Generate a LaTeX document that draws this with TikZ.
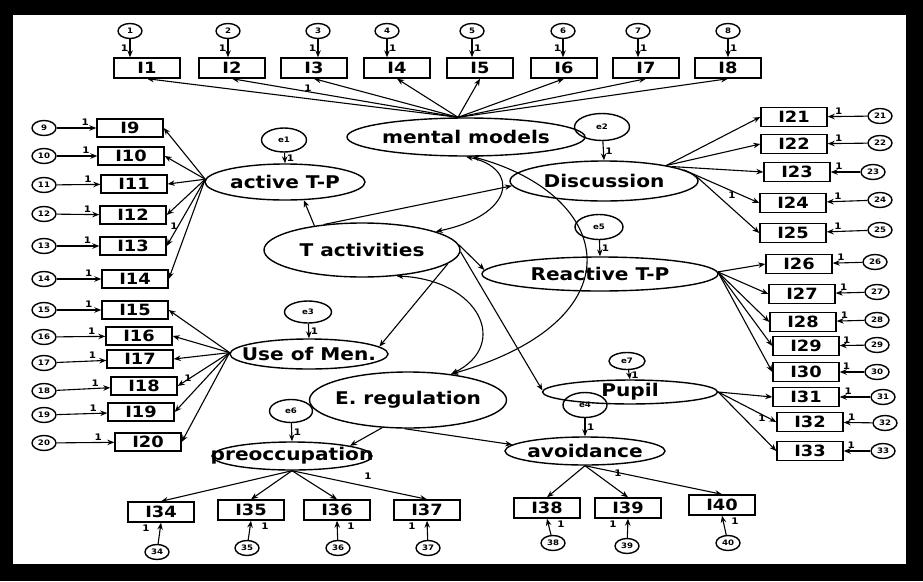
\documentclass[tikz,border=0pt]{standalone}
\usepackage{fontspec}
\newfontfamily\semfont{DejaVu Sans}[FakeStretch=1.15]
\usetikzlibrary{shapes.geometric,arrows.meta}
\newcommand{\nw}[1]{\makebox[0pt]{#1}}

\begin{document}
\begin{tikzpicture}[x=1pt,y=-1pt,>={Stealth[length=7pt,width=5.5pt]},line width=1.1pt,
    lat/.style={draw,ellipse,inner sep=0pt,line width=1.4pt,font=\semfont\bfseries\fontsize{17.5}{19}\selectfont},
    obs/.style={draw,rectangle,inner sep=0pt,minimum width=66,minimum height=20,line width=1.4pt,font=\semfont\bfseries\fontsize{15.5}{17}\selectfont},
    err/.style={draw,ellipse,inner sep=0pt,minimum width=24,minimum height=15,line width=1.4pt,font=\semfont\bfseries\fontsize{7.5}{8}\selectfont},
    one/.style={font=\semfont\bfseries\fontsize{9}{10}\selectfont,inner sep=1.5pt}]
    \useasboundingbox (0,0) rectangle (923,581);
    \fill[black] (0,0) rectangle (923,581);
    \fill[white] (13,15) rectangle (906,564);
    \node[lat,minimum width=238,minimum height=38] (mm) at (466,137) {\nw{mental models}};
    \node[lat,minimum width=160,minimum height=36] (atp) at (285,182) {\nw{active T-P}};
    \node[lat,minimum width=188,minimum height=40] (dis) at (604,181) {\nw{Discussion}};
    \node[lat,minimum width=196,minimum height=54] (ta) at (362,250) {\nw{T activities}};
    \node[lat,minimum width=236,minimum height=34] (rtp) at (600,274) {\nw{Reactive T-P}};
    \node[lat,minimum width=158,minimum height=30] (um) at (309,354) {\nw{Use of Men.}};
    \node[lat,minimum width=197,minimum height=56] (er) at (408,400) {\nw{E. regulation}};
    \node[lat,minimum width=175,minimum height=22] (pu) at (630,392) {\nw{Pupil}};
    \node[lat,minimum width=160,minimum height=28] (pre) at (292,456) {\nw{preoccupation}};
    \node[lat,minimum width=160,minimum height=28] (avo) at (585,451) {\nw{avoidance}};
    \foreach \n/\bx/\ex/\s in {1/147/130/left,2/232/228/left,3/314/318/left,4/397/387/right,
        5/480/472/right,6/564/563/left,7/646/638/right,8/728/728/right}{
        \node[obs] (i\n) at (\bx,68) {I\n};
        \node[err] (d\n) at (\ex,31) {\n};
        \draw[->] (d\n) -- (i\n.north -| d\n) node[midway,\s,one] {1};
        \draw[->] ([xshift=-8]mm.north) -- (i\n.south);
    }
    \foreach \n/\bx/\by/\ey/\src/\a in {9/130/128/128/atp/178,10/131/156/156/atp/178,11/134/184/185/atp/178,
        12/133/215/214/atp/178,13/133/246/246/atp/178,14/135/279/279/atp/178,
        15/135/310/310/um/179,16/139/336/337/um/179,17/140/359/363/um/179,
        18/144/386/391/um/179,19/141/412/415/um/179,20/148/442/443/um/179}{
        \node[obs,minimum height=18] (i\n) at (\bx,\by) {I\n};
        \node[err] (d\n) at (44,\ey) {\n};
        \draw[->] (d\n) -- (i\n) node[pos=0.72,above,one] {1};
        \draw[->] (\src.\a) -- (i\n.east);
    }
    \foreach \n/\bx/\by/\ex/\ey/\src/\a in {21/794/117/880/116/dis/14,22/794/144/880/143/dis/14,
        23/797/172/873/172/dis/12,24/793/203/880/200/dis/8,25/793/233/880/230/dis/3,
        26/799/264/875/262/rtp/1,27/802/294/877/292/rtp/1,28/803/322/877/320/rtp/1,
        29/806/346/877/345/rtp/1,30/806/372/877/372/rtp/1,
        31/806/397/883/397/pu/0,32/810/422/885/423/pu/0,33/810/451/883/451/pu/0}{
        \node[obs,minimum height=19] (i\n) at (\bx,\by) {I\n};
        \node[err] (d\n) at (\ex,\ey) {\n};
        \draw[->] (d\n) -- (i\n) node[pos=0.72,above,one] {1};
        \draw[->] (\src.\a) -- (i\n.west);
    }
    \foreach \n/\bx/\by/\ex/\ey/\src/\dx in {34/161/512/157/552/pre/-15,35/251/510/247/548/pre/14,
        36/337/510/338/548/pre/14,37/427/510/428/548/pre/-15,
        38/547/508/553/543/avo/14,39/628/508/627/546/avo/-15,40/722/505/728/543/avo/13}{
        \node[obs] (i\n) at (\bx,\by) {I\n};
        \node[err] (d\n) at (\ex,\ey) {\n};
        \draw[->] (d\n) -- (i\n.south) node[pos=1,anchor=north,xshift=\dx,one] {1};
        \draw[->] (\src.south) -- (i\n.north);
    }
    \foreach \e/\ex/\ey/\w/\h/\t in {e1/284/140/45/24/atp,e2/602/127/55/27/dis,e3/308/312/47/22/um,
        e5/599/227/48/25/rtp,e6/291/411/43/23/pre,e7/627/361/36/17/pu,e4/585/405/44/25/avo}{
        \node[err,minimum width=\w,minimum height=\h] (\e) at (\ex,\ey) {\e};
        \draw[->] (\e) -- (\t.north) node[midway,right,one] {1};
    }
    \node[one] (l1) at (308,88) {1};
    \node[one] (l2) at (174,226) {1};
    \node[one] (l3) at (188,378) {1};
    \node[one] (l4) at (732,195) {1};
    \node[one] (l5) at (762,418) {1};
    \node[one] (l6) at (368,476) {1};
    \node[one] (l7) at (618,473) {1};
    \draw[->] (ta.153) -- (atp.316);
    \draw[->] (ta.146) -- (dis.183);
    \draw[->] (ta.3) -- (rtp.178);
    \draw[->] (ta.351) -- (um.6);
    \draw[->] (ta.359) -- (pu.179);
    \draw[->] (er.227) -- (pre.10);
    \draw[->] (er.263) -- (avo.175);
    \draw[<->] (mm.south) .. controls (520,168) and (515,215) .. (ta.14);
    \draw[<->] (mm.288) .. controls (615,195) and (640,320) .. (er.31);
    \draw[<->] (ta.323) .. controls (480,280) and (510,345) .. (er.31);
\end{tikzpicture}
\end{document}
